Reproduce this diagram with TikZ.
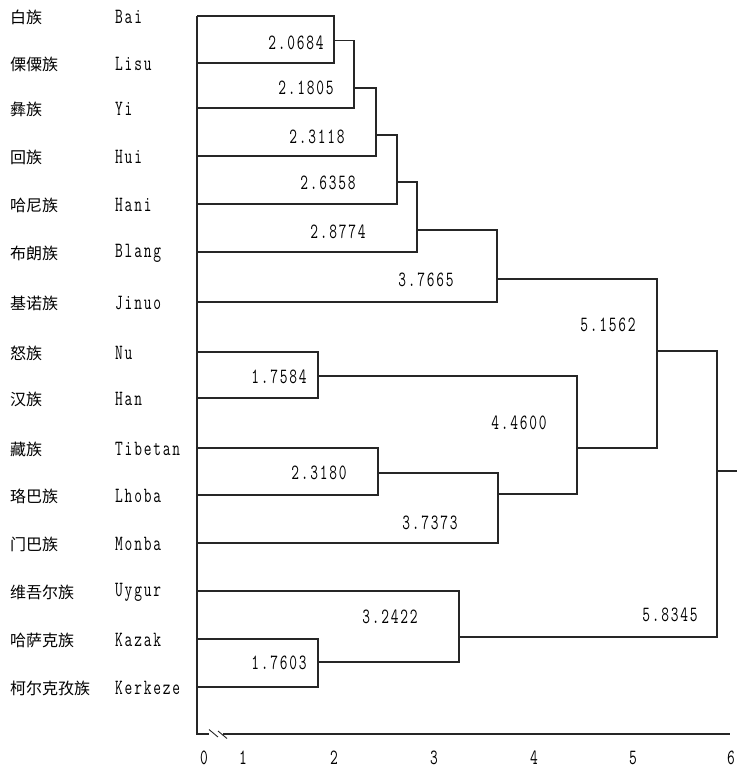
\documentclass[tikz,border=0pt]{standalone}
\usepackage{fontspec}
\usepackage{graphicx}
\newfontfamily\cjk{Noto Sans CJK SC}
\newfontfamily\latf[LetterSpace=12]{Latin Modern Mono}
\newcommand{\tallt}[1]{\scalebox{1}[1.45]{#1}}
\tikzset{
  ln/.style={line width=1.3pt, draw=black!85},
  cn/.style={anchor=west, inner sep=0pt, font=\cjk\fontsize{16}{16}\selectfont},
  en/.style={anchor=west, inner sep=0pt, font=\latf\fontsize{15}{15}\selectfont},
  val/.style={inner sep=0pt, font=\latf\fontsize{15}{15}\selectfont},
  tick/.style={anchor=base, inner sep=0pt, font=\latf\fontsize{15}{15}\selectfont},
}
\begin{document}
\begin{tikzpicture}[x=1pt,y=-1pt]
\useasboundingbox (0,0) rectangle (737,771);
% leaves on axis
\foreach \n/\y in {1/16,2/63,3/108,4/156,5/204,6/252,7/302,8/352,9/398,10/448,11/495,12/543,13/591,14/639,15/687}
  \coordinate (L\n) at (197,\y);
% junction stub points
\coordinate (j1) at (334,40.5);
\coordinate (j2) at (354,88);
\coordinate (j3) at (376,135);
\coordinate (j4) at (397,182);
\coordinate (j5) at (417,230);
\coordinate (j6) at (497,279);
\coordinate (j7) at (318,376);
\coordinate (j8) at (378,473);
\coordinate (j9) at (498,494);
\coordinate (j10) at (577,448);
\coordinate (j11) at (657,351);
\coordinate (j12) at (318,662);
\coordinate (j13) at (459,637);
\coordinate (j14) at (717,471);
\coordinate (root) at (737,471);
% tree
\draw[ln] (L1) -| (j1) |- (L2);
\draw[ln] (j1) -| (j2) |- (L3);
\draw[ln] (j2) -| (j3) |- (L4);
\draw[ln] (j3) -| (j4) |- (L5);
\draw[ln] (j4) -| (j5) |- (L6);
\draw[ln] (j5) -| (j6) |- (L7);
\draw[ln] (L8) -| (j7) |- (L9);
\draw[ln] (L10) -| (j8) |- (L11);
\draw[ln] (j8) -| (j9) |- (L12);
\draw[ln] (j7) -| (j10) |- (j9);
\draw[ln] (j6) -| (j11) |- (j10);
\draw[ln] (L14) -| (j12) |- (L15);
\draw[ln] (L13) -| (j13) |- (j12);
\draw[ln] (j11) -| (j14) |- (j13);
\draw[ln] (j14) -- (root);
% axes
\coordinate (axb) at (197,734);
\coordinate (b1) at (209,734);
\coordinate (b2) at (223,734);
\coordinate (axe) at (730,734);
\coordinate (s1a) at (209,729.5);
\coordinate (s1b) at (218,737);
\coordinate (s2a) at (218,731);
\coordinate (s2b) at (227,738.5);
\draw[ln] (L1) -- (axb) -- (b1);
\draw[ln] (b2) -- (axe);
\draw[ln, line width=0.9pt] (s1a) -- (s1b);
\draw[ln, line width=0.9pt] (s2a) -- (s2b);
% tick labels
\foreach \t/\x in {0/204,1/243,2/334,3/434,4/534,5/633,6/731}
  \node[tick] (t\t) at (\x,764) {\tallt{\t}};
% leaf labels
\foreach \n/\y/\c/\e in {1/16/白族/Bai,2/63/傈僳族/Lisu,3/108/彝族/Yi,4/156/回族/Hui,5/204/哈尼族/Hani,6/252/布朗族/Blang,7/302/基诺族/Jinuo,8/352/怒族/Nu,9/398/汉族/Han,10/448/藏族/Tibetan,11/495/珞巴族/Lhoba,12/543/门巴族/Monba,13/591/维吾尔族/Uygur,14/639/哈萨克族/Kazak,15/687/柯尔克孜族/Kerkeze}
{
  \node[cn] (c\n) at (10,\y+1) {\c};
  \node[en] (e\n) at (115,\y+1) {\tallt{\e}};
}
% distance labels
\node[val] (v1) at (296,43) {\tallt{2.0684}};
\node[val] (v2) at (306,88) {\tallt{2.1805}};
\node[val] (v3) at (317,137) {\tallt{2.3118}};
\node[val] (v4) at (328,183) {\tallt{2.6358}};
\node[val] (v5) at (338,232) {\tallt{2.8774}};
\node[val] (v6) at (426,280) {\tallt{3.7665}};
\node[val] (v7) at (279,377) {\tallt{1.7584}};
\node[val] (v8) at (319,473) {\tallt{2.3180}};
\node[val] (v9) at (430,523) {\tallt{3.7373}};
\node[val] (v10) at (390,617) {\tallt{3.2422}};
\node[val] (v11) at (279,663) {\tallt{1.7603}};
\node[val] (v12) at (519,423) {\tallt{4.4600}};
\node[val] (v13) at (608,325) {\tallt{5.1562}};
\node[val] (v14) at (670,615) {\tallt{5.8345}};
\end{tikzpicture}
\end{document}
